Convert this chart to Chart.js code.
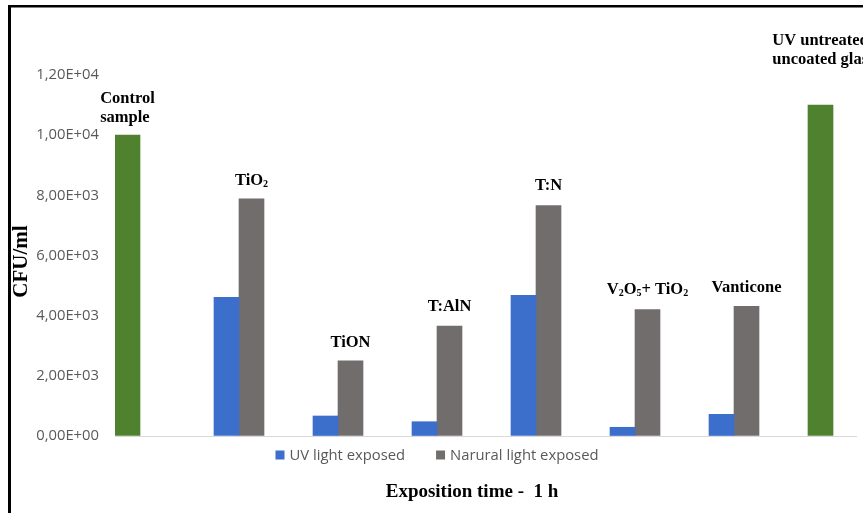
<!DOCTYPE html>
<html>
<head>
<meta charset="utf-8">
<script src="https://cdn.jsdelivr.net/npm/chart.js@4.4.1/dist/chart.umd.min.js"></script>
<style>
  html, body { margin: 0; padding: 0; background: #fff; overflow: hidden; }
  canvas { display: block; }
</style>
</head>
<body>
<canvas id="chart" width="863" height="513"></canvas>
<script>
// Sample groups; "\n" breaks a note over two lines, ₂/₅ are drawn as subscripts
const categories = ['Control\nsample', 'TiO₂', 'TiON', 'T:AlN', 'T:N', 'V₂O₅+ TiO₂', 'Vanticone', 'UV untreated\nuncoated glass'];
const seriesNames = ['UV light exposed', 'Narural light exposed'];

// CFU/ml after 1 h
const controlValues = [10000, null, null, null, null, null, null, 11000];
const uvValues      = [null, 4610, 665, 475, 4680, 290, 720, null];
const naturalValues = [null, 7880, 2500, 3650, 7660, 4200, 4310, null];

const yTickStep = 2000;
const yTickLabels = ['0,00E+00', '2,00E+03', '4,00E+03', '6,00E+03', '8,00E+03', '1,00E+04', '1,20E+04'];
const yTitle = 'CFU/ml';
const xTitle = 'Exposition time -  1 h';

const COLORS = { control: '#4f812f', uv: '#3b6fcb', natural: '#726d6d' };
const SERIF = "'Times New Roman', 'Liberation Serif', serif";
const SANS = "'Open Sans', Calibri, 'Liberation Sans', sans-serif";

const toPoints = arr => arr.map((y, i) => ({ x: i, y }));

// --- small rich-text helpers: subscript digits drawn smaller and lowered ---
const SUBS = '₀₁₂₃₄₅₆₇₈₉';
function runs(text) {
  const out = [];
  for (const ch of text) {
    const k = SUBS.indexOf(ch);
    const sub = k >= 0;
    const c = sub ? String(k) : ch;
    const last = out[out.length - 1];
    if (last && last.sub === sub) last.t += c; else out.push({ t: c, sub });
  }
  return out;
}
const runFont = (r, size) => `bold ${r.sub ? Math.round(size * 0.62) : size}px ${SERIF}`;
function richWidth(ctx, text, size) {
  return runs(text).reduce((w, r) => { ctx.font = runFont(r, size); return w + ctx.measureText(r.t).width; }, 0);
}
function drawRich(ctx, text, x, y, size) {
  for (const r of runs(text)) {
    ctx.font = runFont(r, size);
    ctx.fillText(r.t, x, y + (r.sub ? size * 0.2 : 0));
    x += ctx.measureText(r.t).width;
  }
}

// Outer frame (left and top edges)
const framePlugin = {
  id: 'frame',
  beforeDraw(chart) {
    const ctx = chart.ctx;
    ctx.save();
    ctx.fillStyle = '#fff';
    ctx.fillRect(0, 0, chart.width, chart.height);
    ctx.fillStyle = '#000';
    ctx.fillRect(8, 5, 3, chart.height - 5);
    ctx.fillRect(8, 5, chart.width - 8, 2.5);
    ctx.restore();
  }
};

// Sample names written above each group of bars
const groupNotes = {
  id: 'groupNotes',
  afterDatasetsDraw(chart, args, opts) {
    const ctx = chart.ctx;
    ctx.save();
    ctx.fillStyle = '#000';
    ctx.textAlign = 'left';
    ctx.textBaseline = 'middle';
    categories.forEach((label, i) => {
      let top = Infinity, cx = null;
      chart.data.datasets.forEach((ds, di) => {
        const el = chart.getDatasetMeta(di).data[i];
        if (!el || ds.data[i].y == null) return;
        top = Math.min(top, el.y);
        cx = el.x;
      });
      if (cx === null) return;
      const lines = label.split('\n');
      const left = cx - richWidth(ctx, lines[0], opts.size) / 2;
      const lastY = top - opts.lift[i];
      lines.forEach((line, j) => {
        const y = lastY - (lines.length - 1 - j) * opts.lineGap;
        const x = lines.length > 1 ? left : cx - richWidth(ctx, line, opts.size) / 2;
        drawRich(ctx, line, x, y, opts.size);
      });
    });
    ctx.restore();
  }
};

// Legend, vertical axis title and horizontal axis title
const axisTexts = {
  id: 'axisTexts',
  afterDraw(chart, args, opts) {
    const ctx = chart.ctx;
    const area = chart.chartArea;
    const items = [
      { text: seriesNames[0], color: COLORS.uv },
      { text: seriesNames[1], color: COLORS.natural }
    ];
    ctx.save();
    ctx.font = `${opts.legendSize}px ${SANS}`;
    ctx.textBaseline = 'middle';
    ctx.textAlign = 'left';
    const widths = items.map(it => opts.box + opts.boxGap + ctx.measureText(it.text).width);
    const total = widths.reduce((a, b) => a + b, 0) + opts.itemGap * (items.length - 1);
    let x = opts.legendCenter - total / 2;
    const y = area.bottom + opts.legendOffset;
    items.forEach((it, k) => {
      ctx.fillStyle = it.color;
      ctx.fillRect(x, y - opts.box / 2, opts.box, opts.box);
      ctx.fillStyle = '#595959';
      ctx.fillText(it.text, x + opts.box + opts.boxGap, y + 0.5);
      x += widths[k] + opts.itemGap;
    });

    ctx.fillStyle = '#000';
    ctx.textAlign = 'center';
    ctx.font = `bold ${opts.titleSize}px ${SERIF}`;
    ctx.fillText(xTitle, opts.xTitleCenter, area.bottom + opts.xTitleOffset);

    ctx.font = `bold ${opts.yTitleSize}px ${SERIF}`;
    ctx.translate(opts.yTitleX, (area.top + area.bottom) / 2 + opts.yTitleShift);
    ctx.rotate(-Math.PI / 2);
    ctx.fillText(yTitle, 0, 0);
    ctx.restore();
  }
};

new Chart(document.getElementById('chart'), {
  type: 'bar',
  data: {
    datasets: [
      { label: 'Control', data: toPoints(controlValues), backgroundColor: COLORS.control, stack: 'uv' },
      { label: seriesNames[0], data: toPoints(uvValues), backgroundColor: COLORS.uv, stack: 'uv' },
      { label: seriesNames[1], data: toPoints(naturalValues), backgroundColor: COLORS.natural, stack: 'natural' }
    ]
  },
  options: {
    responsive: false,
    animation: false,
    devicePixelRatio: 1,
    barThickness: 25,
    borderWidth: 0,
    layout: { padding: { left: 10, right: 6, top: 75, bottom: 77 } },
    scales: {
      x: { type: 'linear', display: false, offset: false, min: -0.2525, max: 7.2424 },
      y: {
        min: 0,
        max: 12000,
        ticks: {
          stepSize: yTickStep,
          padding: 16,
          color: '#595959',
          font: { family: SANS, size: 14.8 },
          callback: v => yTickLabels[Math.round(v / yTickStep)]
        },
        grid: {
          drawTicks: false,
          lineWidth: 1,
          color: c => (c.tick && c.tick.value === 0 ? '#d9d9d9' : 'rgba(0,0,0,0)')
        },
        border: { display: false },
        afterFit(scale) { scale.width = 105; }
      }
    },
    plugins: {
      legend: { display: false },
      tooltip: { enabled: false },
      groupNotes: { size: 16.5, lineGap: 19, lift: [17, 18, 18, 19, 20, 20, 19, 45] },
      axisTexts: {
        legendSize: 14.8, box: 9, boxGap: 5, itemGap: 31, legendCenter: 437, legendOffset: 19,
        titleSize: 19, xTitleCenter: 472, xTitleOffset: 56,
        yTitleSize: 21, yTitleX: 22, yTitleShift: 6
      }
    }
  },
  plugins: [framePlugin, groupNotes, axisTexts]
});
</script>
</body>
</html>
